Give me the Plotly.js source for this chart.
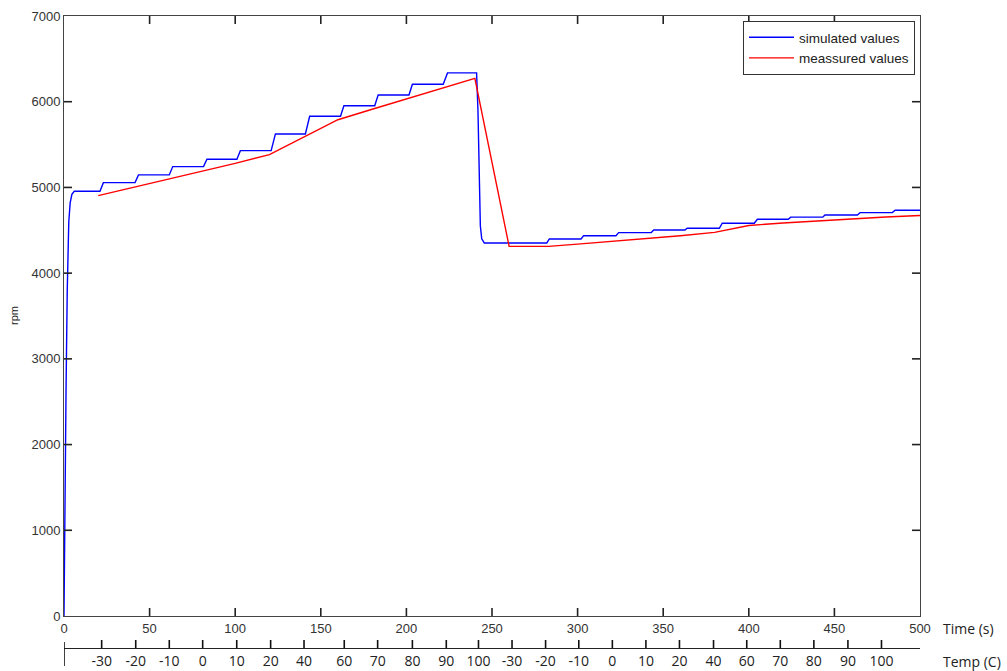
<!DOCTYPE html>
<html>
<head>
<meta charset="utf-8">
<script src="https://cdn.plot.ly/plotly-3.0.1.min.js"></script>
<style>
  html, body { margin: 0; padding: 0; background: #fff; }
  #chart { width: 1007px; height: 671px; }
</style>
</head>
<body>
<div id="chart"></div>
<script>
// Simulated speed (rpm) against time (s)
const simTime = [0, 0.3, 1.2, 1.9, 2.8, 3.6, 4.6, 6.0,
  21, 23, 41.5, 43.5, 61.5, 63.5, 81.5, 83.5, 101, 103, 121, 123.5, 141, 143.5,
  161.5, 163.5, 181.5, 183.5, 201.5, 203.5, 221.5, 224,
  241, 241.8, 242.6, 243.2, 244, 245.5,
  282, 283.5, 302, 303.5, 322.4, 324, 343, 344.5, 362.7, 364, 382.8, 384.5,
  403.2, 405, 423, 424.5, 443.2, 444.5, 463.4, 465, 483.8, 485.5, 500];
const simRpm = [0, 880, 2650, 3800, 4600, 4820, 4920, 4955,
  4955, 5056, 5056, 5146, 5146, 5243, 5243, 5329, 5329, 5429, 5429, 5624, 5624, 5830,
  5830, 5953, 5953, 6078, 6078, 6203, 6203, 6336,
  6336, 5900, 5000, 4550, 4400, 4352,
  4352, 4399, 4399, 4437, 4437, 4473, 4473, 4504, 4504, 4524, 4524, 4582,
  4582, 4629, 4629, 4653, 4653, 4679, 4679, 4706, 4706, 4734, 4734];

// Measured speed (rpm) against time (s)
const measTime = [20, 40, 60, 80, 100, 120, 140, 160, 180, 200, 220, 240,
  260, 283, 300, 320, 340, 360, 380, 400, 420, 440, 460, 480, 500];
const measRpm = [4905, 4998, 5092, 5185, 5280, 5383, 5588, 5790, 5912, 6032, 6152, 6272,
  4312, 4312, 4338, 4370, 4403, 4437, 4475, 4556, 4585, 4610, 4635, 4655, 4672];

// Temperature scale shown under the time axis (time at which each temperature is reached)
const tempTickTime = [22.0, 41.9, 61.5, 81.0, 100.9, 120.7, 140.2, 163.7, 183.2, 203.5, 223.3, 242.1,
  261.7, 281.3, 300.7, 320.3, 339.9, 359.5, 379.4, 398.8, 418.4, 438.0, 457.9, 477.5];
const tempTickLabels = ['-30', '-20', '-10', '0', '10', '20', '40', '60', '70', '80', '90', '100',
  '-30', '-20', '-10', '0', '10', '20', '40', '60', '70', '80', '90', '100'];

const timeTicks = [0, 50, 100, 150, 200, 250, 300, 350, 400, 450, 500];
const rpmTicks = [0, 1000, 2000, 3000, 4000, 5000, 6000, 7000];

const W = 1007, H = 671;
const mL = 64, mR = 87, mT = 16, mB = 23;
const plotW = W - mL - mR, plotH = H - mT - mB;
const mainBottomGap = 32; // space between main axes and temperature scale
const px2x = p => (p - mL) / plotW;
const py2y = p => (H - mB - p) / plotH;
const TICK = 8; // tick length in px, ticks point into the box

const tickFont = { family: 'Liberation Sans, Arial, sans-serif', size: 13, color: '#333' };
const labelFont = { family: 'Open Sans, sans-serif', size: 14, color: '#222' };

const traces = [
  {
    x: simTime, y: simRpm, type: 'scatter', mode: 'lines',
    name: 'simulated values',
    line: { color: '#0000ff', width: 1.4 }
  },
  {
    x: measTime, y: measRpm, type: 'scatter', mode: 'lines',
    name: 'meassured values',
    line: { color: '#ff0000', width: 1.4 }
  },
  {
    // empty trace that carries the temperature scale subplot
    x: [], y: [], xaxis: 'x2', yaxis: 'y2', type: 'scatter', mode: 'lines',
    showlegend: false, hoverinfo: 'skip'
  }
];

// inward tick marks on all four sides of the box, and upward ticks on the temperature scale
const tickLine = { color: '#222', width: 1.6 };
const boxBottom = py2y(H - mB - mainBottomGap), boxTop = 1;
const dyPaper = TICK / plotH, dxPaper = TICK / plotW;
const tickShapes = [];
timeTicks.slice(1, -1).forEach(v => {
  tickShapes.push({ type: 'line', xref: 'x', yref: 'paper', x0: v, x1: v,
    y0: boxBottom, y1: boxBottom + dyPaper, line: tickLine });
  tickShapes.push({ type: 'line', xref: 'x', yref: 'paper', x0: v, x1: v,
    y0: boxTop, y1: boxTop - dyPaper, line: tickLine });
});
rpmTicks.slice(1, -1).forEach(v => {
  tickShapes.push({ type: 'line', xref: 'paper', yref: 'y', x0: 0, x1: dxPaper,
    y0: v, y1: v, line: tickLine });
  tickShapes.push({ type: 'line', xref: 'paper', yref: 'y', x0: 1, x1: 1 - dxPaper,
    y0: v, y1: v, line: tickLine });
});
tempTickTime.forEach(v => {
  tickShapes.push({ type: 'line', xref: 'x2', yref: 'paper', x0: v, x1: v,
    y0: 0, y1: dyPaper, line: { color: '#111', width: 1.6 } });
});
// end mark at the left of the temperature scale
tickShapes.push({ type: 'line', xref: 'x2', yref: 'paper', x0: 0, x1: 0,
  y0: py2y(666), y1: py2y(642), line: { color: '#111', width: 1.6 } });

const layout = {
  width: W, height: H,
  margin: { l: mL, r: mR, t: mT, b: mB, pad: 0 },
  paper_bgcolor: '#fff', plot_bgcolor: 'rgba(0,0,0,0)',
  showlegend: true,
  legend: {
    x: px2x(743), y: py2y(21), xanchor: 'left', yanchor: 'top',
    bgcolor: '#fff', bordercolor: '#333', borderwidth: 1,
    font: { family: 'Liberation Sans, Arial, sans-serif', size: 13.5, color: '#222' },
    itemwidth: 45, tracegroupgap: 0
  },
  xaxis: {
    range: [0, 500], domain: [0, 1], anchor: 'y',
    tickmode: 'array', tickvals: timeTicks, ticktext: timeTicks.map(String),
    ticks: '', showline: true, linecolor: '#444', linewidth: 1, mirror: true,
    showgrid: false, zeroline: false, tickfont: tickFont, fixedrange: true
  },
  yaxis: {
    range: [0, 7000], domain: [mainBottomGap / plotH, 1], anchor: 'x',
    tickmode: 'array', tickvals: rpmTicks, ticktext: rpmTicks.map(String),
    ticks: '', showline: true, linecolor: '#444', linewidth: 1, mirror: true,
    showgrid: false, zeroline: false, tickfont: tickFont, fixedrange: true
  },
  xaxis2: {
    range: [0, 500], domain: [0, 1], anchor: 'y2', side: 'bottom',
    tickmode: 'array', tickvals: tempTickTime, ticktext: tempTickLabels,
    ticks: '', showline: true, linecolor: '#222', linewidth: 1,
    showgrid: false, zeroline: false,
    tickfont: labelFont, fixedrange: true
  },
  yaxis2: {
    domain: [0, 0.005], anchor: 'x2', visible: false, fixedrange: true
  },
  shapes: tickShapes,
  annotations: [
    {
      text: 'rpm', xref: 'paper', yref: 'paper', x: px2x(14), y: py2y(316),
      xanchor: 'center', yanchor: 'middle', textangle: -90, showarrow: false,
      font: { family: 'Liberation Sans, Arial, sans-serif', size: 11, color: '#222' }
    },
    {
      text: 'Time (s)', xref: 'paper', yref: 'paper', x: px2x(941), y: py2y(628),
      xanchor: 'left', yanchor: 'middle', showarrow: false, font: labelFont
    },
    {
      text: 'Temp (C)', xref: 'paper', yref: 'paper', x: px2x(941), y: py2y(662),
      xanchor: 'left', yanchor: 'middle', showarrow: false, font: labelFont
    }
  ]
};

Plotly.newPlot('chart', traces, layout, { displayModeBar: false, staticPlot: true });
</script>
</body>
</html>
